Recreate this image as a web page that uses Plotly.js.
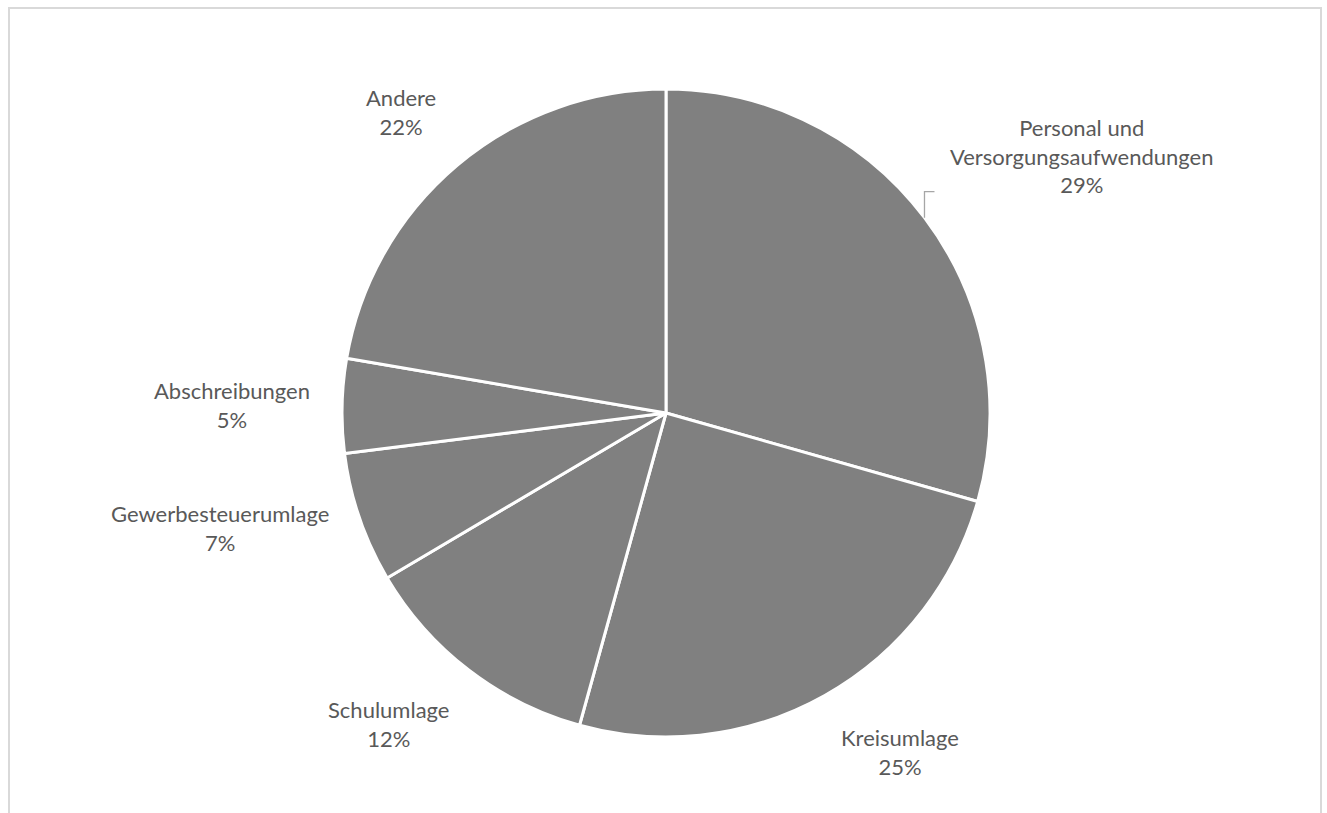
<!DOCTYPE html>
<html>
<head>
<meta charset="utf-8">
<script src="https://cdn.plot.ly/plotly-3.0.1.min.js"></script>
<style>
  html, body { margin: 0; padding: 0; width: 1327px; height: 813px; overflow: hidden; background: #fff; }
  #chart { position: absolute; left: 0; top: 0; width: 1327px; height: 813px; }
  #frame { position: absolute; left: 8px; top: 7px; width: 1310px; height: 900px;
           border: 2px solid #d9d9d9; pointer-events: none; }
</style>
</head>
<body>
<div id="chart"></div>
<div id="frame"></div>
<script>
// Data
const categories = ["Personal und<br>Versorgungsaufwendungen", "Kreisumlage", "Schulumlage",
                    "Gewerbesteuerumlage", "Abschreibungen", "Andere"];
const values = [29.4, 24.9, 12.2, 6.5, 4.7, 22.3];

const W = 1327, H = 813;
const cx = 666, cy = 413, R = 324;        // pie geometry in pixels
const domX = [(cx - R) / W, (cx + R) / W];
const domY = [(H - cy - R) / H, (H - cy + R) / H];

// labels placed outside, computed from the data (clockwise from 12 o'clock)
const total = values.reduce((a, b) => a + b, 0);
const annotations = [];
const shapes = [];
let cum = 0;
const gap = 30;
values.forEach((v, i) => {
  const mid = (cum + v / 2) / total * 2 * Math.PI;
  cum += v;
  const s = Math.sin(mid), c = Math.cos(mid);
  const px = cx + (R + gap) * s;
  const py = cy - (R + gap) * c;
  const pct = Math.round(v / total * 100) + "%";
  annotations.push({
    xref: "paper", yref: "paper",
    x: px / W, y: (H - py) / H,
    xanchor: s > 0.3 ? "left" : (s < -0.3 ? "right" : "center"),
    yanchor: c > 0.35 ? "bottom" : (c < -0.35 ? "top" : "middle"),
    text: categories[i] + "<br>" + pct,
    showarrow: false,
    align: "center",
    font: { family: "Lato, 'Open Sans', sans-serif", size: 22, color: "#595959" }
  });
  if (i === 0) {
    // short leader line from the slice edge toward its label
    const ex = cx + R * s, ey = cy - R * c;
    shapes.push({
      type: "path", xref: "paper", yref: "paper",
      path: "M " + (ex / W) + "," + ((H - ey) / H) +
            " L " + (ex / W) + "," + ((H - ey + 26) / H) +
            " L " + ((ex + 10) / W) + "," + ((H - ey + 26) / H),
      line: { color: "#a6a6a6", width: 1.3 }
    });
  }
});

const trace = {
  type: "pie",
  labels: categories,
  values: values,
  sort: false,
  direction: "clockwise",
  rotation: 0,
  textinfo: "none",
  hoverinfo: "label+percent",
  marker: { colors: values.map(() => "#808080"), line: { color: "#ffffff", width: 3 } },
  domain: { x: domX, y: domY },
  showlegend: false
};

Plotly.newPlot("chart", [trace], {
  width: W, height: H,
  margin: { l: 0, r: 0, t: 0, b: 0 },
  paper_bgcolor: "#ffffff",
  plot_bgcolor: "#ffffff",
  showlegend: false,
  annotations: annotations,
  shapes: shapes
}, { displayModeBar: false, staticPlot: true });
</script>
</body>
</html>
